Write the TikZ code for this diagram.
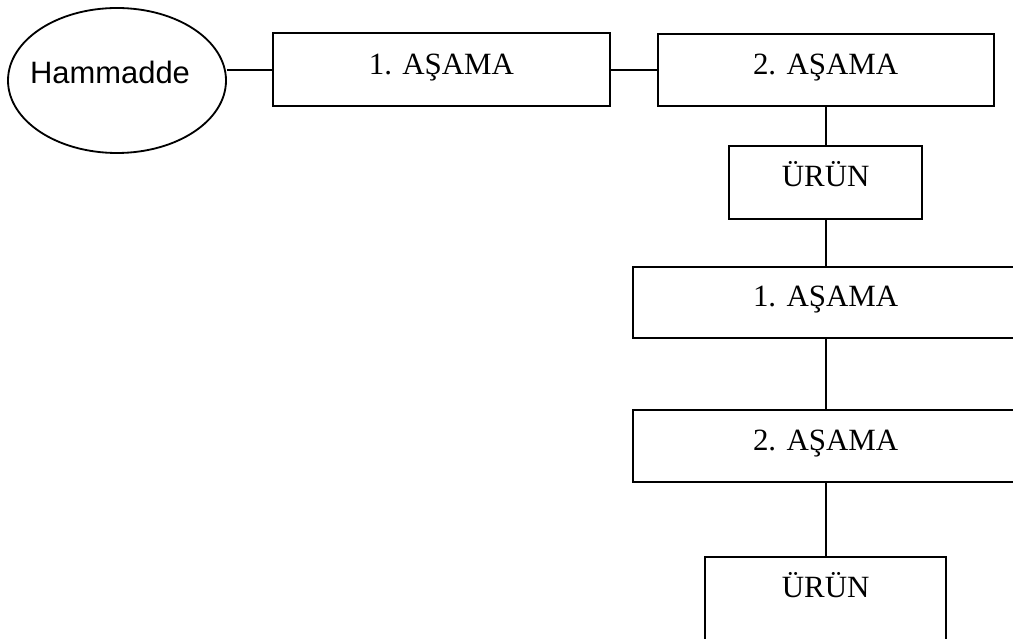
\documentclass[tikz,border=0pt]{standalone}
\usepackage{fontspec}
\setmainfont{Liberation Serif}
\newfontfamily\arialfont{Liberation Sans}
\usetikzlibrary{shapes.geometric}

\begin{document}
\begin{tikzpicture}[
	kutu/.style={draw, line width=1.3pt, rectangle, inner sep=0pt,
		text height=0.6cm, text depth=0.375cm, font=\fontsize{22}{26}\selectfont},
	hat/.style={line width=1.3pt}
]

			\clip (0,0) rectangle (25.325,-15.975);

			% Hammadde (elips)
			\node[draw, ellipse, line width=1.3pt, inner sep=0pt,
				minimum width=5.45cm, minimum height=3.625cm,
				text height=0.6cm, text depth=0.46cm,
				font=\arialfont\fontsize{22}{26}\selectfont] (ham) at (2.925,-2.0125) {\hspace*{-0.35cm}Hammadde};

			% Ust sira: asamalar
			\node[kutu, minimum width=8.43cm, minimum height=1.825cm] (asama1) at (11.035,-1.74) {1. AŞAMA};
			\node[kutu, minimum width=8.4cm, minimum height=1.8cm] (asama2) at (20.64,-1.74) {2. AŞAMA};

			% Ara urun
			\node[kutu, minimum width=4.825cm, minimum height=1.825cm] (urun1) at (20.64,-4.5625) {ÜRÜN};

			% Ikinci asamalar
			\node[kutu, minimum width=9.65cm, minimum height=1.775cm] (asama3) at (20.64,-7.5625) {1. AŞAMA};
			\node[kutu, minimum width=9.65cm, minimum height=1.8cm] (asama4) at (20.64,-11.15) {2. AŞAMA};

			% Son urun (alt kenari disarida)
			\node[kutu, anchor=north, minimum width=6.025cm, text height=1.02cm, text depth=2cm] (urun2) at (20.64,-13.9) {ÜRÜN};

			% Baglantilar
			\draw[hat] (asama1.west) -- (asama1.west -| ham.east);
			\draw[hat] (asama1.east) -- (asama2.west);
			\draw[hat] (asama2.south) -- (urun1.north);
			\draw[hat] (urun1.south) -- (asama3.north);
			\draw[hat] (asama3.south) -- (asama4.north);
			\draw[hat] (asama4.south) -- (urun2.north);

		\end{tikzpicture}
\end{document}
